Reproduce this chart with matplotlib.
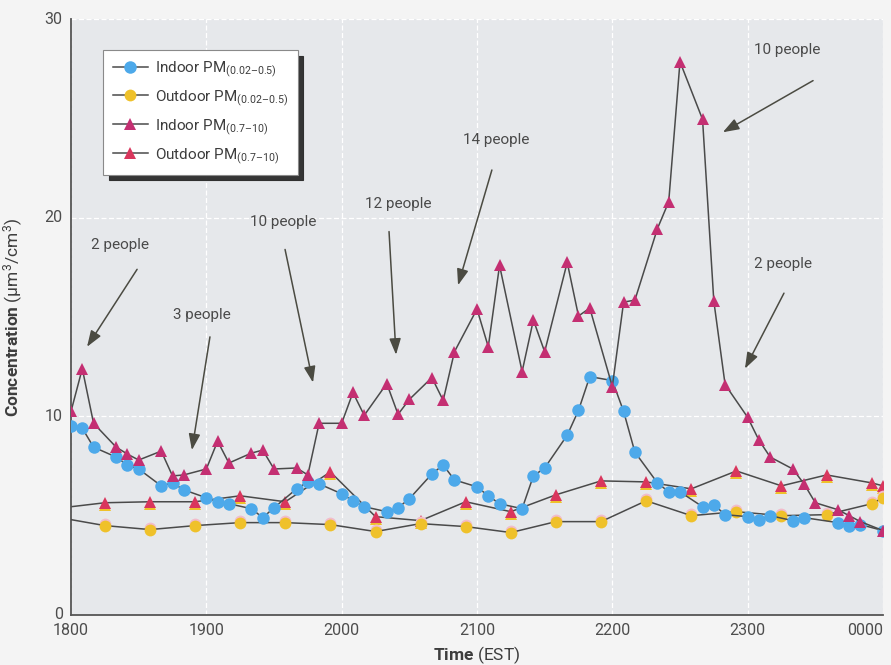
import matplotlib
matplotlib.use("Agg")
import matplotlib.pyplot as plt
import matplotlib.transforms as mtransforms

plt.rcParams['font.family'] = ['Roboto', 'DejaVu Sans']
plt.rcParams['mathtext.fontset'] = 'custom'
plt.rcParams['mathtext.rm'] = 'Roboto'
plt.rcParams['mathtext.it'] = 'Roboto:italic'
plt.rcParams['mathtext.bf'] = 'Roboto:bold'

# minutes after 1800 EST
in_t = [0, 5, 10, 20, 25, 30, 40, 45, 50, 60, 65, 70, 80, 85, 90, 100, 105, 110,
        120, 125, 130, 140, 145, 150, 160, 165, 170, 180, 185, 190, 200, 205, 210,
        220, 225, 230, 240, 245, 250, 260, 265, 270, 280, 285, 290, 300, 305, 310,
        320, 325, 340, 345, 350, 360]
in_fine = [9.5, 9.4, 8.45, 7.95, 7.55, 7.35, 6.5, 6.65, 6.3, 5.9, 5.7, 5.6, 5.35, 4.9,
           5.4, 6.35, 6.7, 6.6, 6.1, 5.75, 5.45, 5.2, 5.4, 5.85, 7.1, 7.55, 6.8, 6.45,
           6.0, 5.6, 5.35, 7.0, 7.4, 9.05, 10.3, 12.0, 11.8, 10.25, 8.2, 6.65, 6.2, 6.2,
           5.45, 5.55, 5.05, 4.95, 4.8, 5.0, 4.75, 4.9, 4.65, 4.5, 4.55, 4.25]

coarse_t = [0, 5, 10, 20, 25, 30, 40, 45, 50, 60, 65, 70, 80, 85, 90, 100, 105, 110,
            120, 125, 130, 140, 145, 150, 160, 165, 170, 180, 185, 190, 200, 205, 210,
            220, 225, 230, 240, 245, 250, 260, 265, 270, 280, 285, 290, 300, 305, 310,
            320, 325, 330, 340, 345, 350, 360]
in_coarse = [10.25, 12.4, 9.65, 8.45, 8.1, 7.8, 8.25, 7.0, 7.05, 7.35, 8.75, 7.65, 8.15,
             8.3, 7.35, 7.4, 7.05, 9.65, 9.65, 11.2, 10.05, 11.65, 10.1, 10.85, 11.95,
             10.8, 13.25, 15.4, 13.5, 17.6, 12.25, 14.85, 13.25, 17.75, 15.05, 15.45,
             11.5, 15.75, 15.85, 19.45, 20.8, 27.85, 24.95, 15.8, 11.6, 9.95, 8.8, 7.95,
             7.35, 6.6, 5.65, 5.3, 5.0, 4.7, 4.25]

out_t = [0, 15, 35, 55, 75, 95, 115, 135, 155, 175, 195, 215, 235, 255, 275, 295, 315,
         335, 355, 360]
out_fine = [4.8, 4.5, 4.3, 4.5, 4.65, 4.65, 4.55, 4.2, 4.6, 4.45, 4.15, 4.7, 4.7, 5.75,
            5.0, 5.2, 5.0, 5.05, 5.6, 5.9]
out_coarse = [5.45, 5.65, 5.7, 5.7, 6.0, 5.7, 7.2, 4.95, 4.75, 5.7, 5.2, 6.05, 6.75,
              6.7, 6.35, 7.25, 6.5, 7.05, 6.65, 6.5]

hour_labels = ['1800', '1900', '2000', '2100', '2200', '2300', '0000']

# (label, text position, arrow tail, arrow head) in minutes / concentration
notes = [
    ("2 people", (21.7, 18.6), (29.3, 17.4), (7.1, 13.5)),
    ("3 people", (58.0, 15.1), (61.6, 14.0), (53.6, 8.3)),
    ("10 people", (94.0, 19.8), (94.9, 18.4), (107.3, 11.7)),
    ("12 people", (145.0, 20.7), (141.0, 19.3), (144.1, 13.1)),
    ("14 people", (188.4, 23.9), (186.6, 22.4), (171.6, 16.6)),
    ("10 people", (317.4, 28.45), (329.0, 26.9), (289.0, 24.3)),
    ("2 people", (315.7, 17.66), (316.1, 16.2), (298.8, 12.4)),
]

line_col = '#4a4a4a'
blue = '#4da9ea'
magenta = '#c42f72'
yellow = '#efc12a'
red = '#d9365d'

fig = plt.figure(figsize=(8.91, 6.65), dpi=100, facecolor='#f4f4f4')
ax = fig.add_axes([0.0797, 0.0752, 0.9113, 0.8962])
ax.set_facecolor('#e6e8eb')

mk = dict(markersize=8.5, markeredgewidth=0)
skip_first = slice(1, None)

# outdoor series: printed with a slight colour offset under each marker
down = mtransforms.offset_copy(ax.transData, fig=fig, x=0, y=-1.6, units='points')
up = mtransforms.offset_copy(ax.transData, fig=fig, x=0, y=1.2, units='points')
ax.plot(out_t[1:], out_coarse[1:], '^', color=yellow, transform=down, zorder=2, **mk)
ax.plot(out_t, out_coarse, '-^', color=line_col, lw=1.1, mfc=red, markevery=skip_first,
        zorder=2, label='Outdoor PM$_{(0.7\u201310)}$', **mk)
ax.plot(out_t[1:], out_fine[1:], 'o', color='#f2bccb', transform=up, zorder=3, **mk)
ax.plot(out_t, out_fine, '-o', color=line_col, lw=1.1, mfc=yellow, markevery=skip_first,
        zorder=3, label='Outdoor PM$_{(0.02\u20130.5)}$', **mk)

ax.plot(in_t, in_fine, '-o', color=line_col, lw=1.1, mfc=blue, zorder=4,
        label='Indoor PM$_{(0.02\u20130.5)}$', markersize=9, markeredgewidth=0)
ax.plot(coarse_t, in_coarse, '-^', color=line_col, lw=1.1, mfc=magenta, zorder=5,
        label='Indoor PM$_{(0.7\u201310)}$', **mk)

ax.set_xlim(0, 360)
ax.set_ylim(0, 30)
ax.set_xticks(range(0, 361, 60))
ax.set_xticklabels(hour_labels)
ax.set_yticks([0, 10, 20, 30])
ax.tick_params(length=0, labelsize=11.5, colors='#4d4d4d', pad=6)
for lab in ax.get_yticklabels():
    lab.set_verticalalignment('center')
ax.get_xticklabels()[-1].set_horizontalalignment('right')

ax.grid(color='white', linestyle=(0, (4, 2)), linewidth=0.9)
ax.set_axisbelow(True)
for side in ('top', 'right'):
    ax.spines[side].set_visible(False)
for side in ('left', 'bottom'):
    ax.spines[side].set_color('#555555')
    ax.spines[side].set_linewidth(1.3)

ax.set_xlabel(r'$\bf{Time}$ (EST)', fontsize=12.5, color='#3d3d3d', labelpad=4)
ax.set_ylabel('$\\bf{Concentration}$ (\u03bcm$^{3}$/cm$^{3}$)', fontsize=12.5,
              color='#3d3d3d', labelpad=14)

for label, txt, tail, head in notes:
    ax.text(txt[0], txt[1], label, fontsize=11, color='#4a4a4a',
            ha='center', va='center', zorder=6)
    ax.annotate('', xy=head, xytext=tail, zorder=6,
                arrowprops=dict(arrowstyle='-|>,head_length=0.7,head_width=0.25',
                                color='#4b4b42', lw=1.1, mutation_scale=14,
                                shrinkA=0, shrinkB=0))

handles, labels = ax.get_legend_handles_labels()
order = [labels.index(l) for l in ['Indoor PM$_{(0.02\u20130.5)}$',
                                   'Outdoor PM$_{(0.02\u20130.5)}$',
                                   'Indoor PM$_{(0.7\u201310)}$',
                                   'Outdoor PM$_{(0.7\u201310)}$']]
leg = ax.legend([handles[i] for i in order], [labels[i] for i in order],
                loc='upper left', bbox_to_anchor=(0.04, 0.948), borderaxespad=0,
                fontsize=11, handlelength=2.3, handletextpad=0.5, labelspacing=0.6,
                borderpad=0.6, fancybox=False, framealpha=1, edgecolor='#8a8a8a',
                shadow={'ox': 4, 'oy': -4, 'color': '#2b2b2b', 'alpha': 0.95})
leg.get_frame().set_linewidth(0.8)
for t in leg.get_texts():
    t.set_color('#3d3d3d')

fig.savefig('out.png', dpi=100, facecolor=fig.get_facecolor())
